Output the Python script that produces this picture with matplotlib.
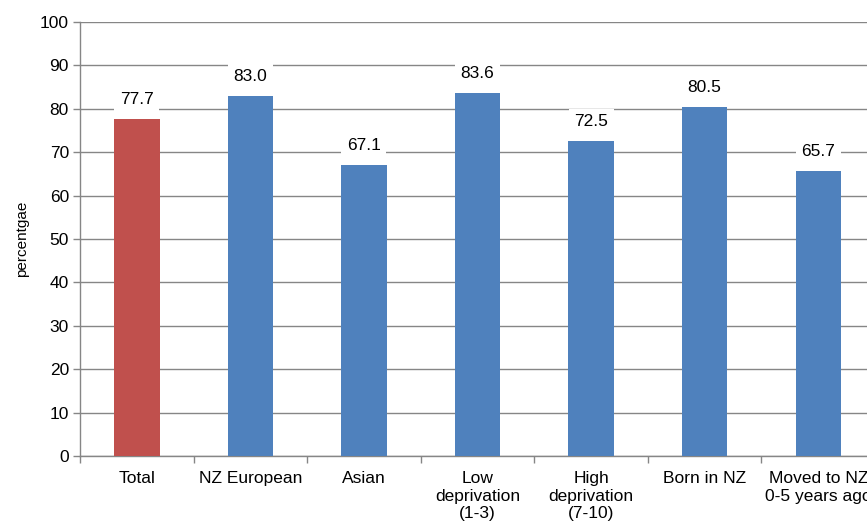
import matplotlib
matplotlib.use("Agg")
import matplotlib.pyplot as plt
import numpy as np

plt.rcParams['font.family'] = ['Liberation Sans', 'DejaVu Sans']

categories = ["Total", "NZ European", "Asian", "Low\ndeprivation\n(1-3)",
              "High\ndeprivation\n(7-10)", "Born in NZ", "Moved to NZ\n0-5 years ago"]
values = [77.7, 83.0, 67.1, 83.6, 72.5, 80.5, 65.7]
colors = ["#C0504D"] + ["#4F81BD"] * 6
yticks = list(range(0, 101, 10))

fig = plt.figure(figsize=(8.67, 5.26), dpi=100)
ax = fig.add_axes([80/867, 70/526, 795/867, 434/526])

x = np.arange(len(categories))
ax.bar(x, values, width=0.4, color=colors, zorder=3)
ax.set_xlim(-0.5, len(categories) - 0.5)
ax.set_ylim(0, 100)
ax.set_yticks(yticks)
ax.tick_params(axis='y', labelsize=12.5, length=5, color='#868686', width=1, pad=3)
ax.yaxis.grid(True, color='#868686', linewidth=1, zorder=0)
ax.set_axisbelow(True)

ax.set_xticks(x)
ax.set_xticklabels(categories, fontsize=12.5, linespacing=1.2, va='top')
ax.tick_params(axis='x', length=0, pad=11)
ax.set_xticks(np.arange(-0.5, len(categories), 1), minor=True)
ax.tick_params(axis='x', which='minor', length=5, color='#868686', width=1)

for s in ['top', 'right']:
    ax.spines[s].set_visible(False)
for s in ['left', 'bottom']:
    ax.spines[s].set_color('#868686')
    ax.spines[s].set_linewidth(1)

for xi, v in zip(x, values):
    ax.annotate(f"{v:.1f}", (xi, v), xytext=(0, 14), textcoords='offset points',
                ha='center', va='center', fontsize=12.5,
                bbox=dict(facecolor='white', edgecolor='none', pad=4), zorder=4)

ax.set_ylabel("percentgae", fontsize=11, labelpad=8)

fig.savefig("out.png", dpi=100)
